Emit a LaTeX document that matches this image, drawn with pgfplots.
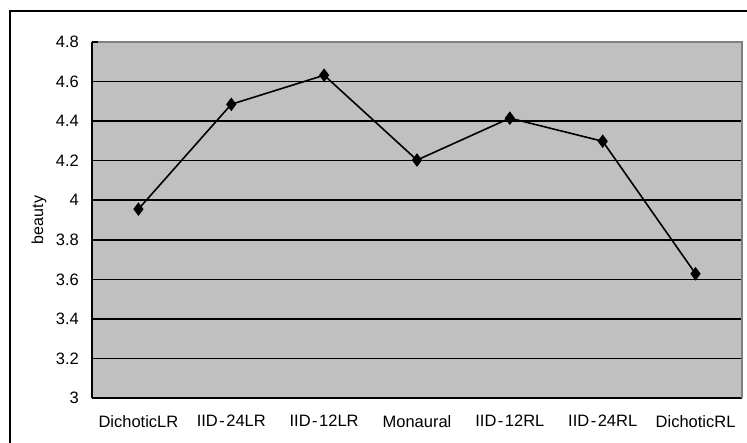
\documentclass[border=0pt]{standalone}
\usepackage{fontspec}
\setmainfont{Liberation Sans}
\usepackage{pgfplots}
\pgfplotsset{compat=1.18}
\definecolor{plotgray}{HTML}{C0C0C0}
\definecolor{bordergray}{HTML}{808080}
\newcommand{\hy}{\kern1.5pt-\kern1.5pt}
\begin{document}
\begin{tikzpicture}[x=1pt,y=1pt]
\useasboundingbox (0,0) rectangle (747,442);
\draw[line width=1.6pt] (10,431) rectangle (780,-30);
\begin{axis}[
  at={(92pt,44pt)}, anchor=south west,
  scale only axis, width=650pt, height=356pt,
  xmin=-0.5, xmax=6.5, ymin=3, ymax=4.8,
  axis background/.style={fill=plotgray},
  axis lines*=left,
  axis line style={black, line width=1.5pt, -},
  /pgf/number format/assume math mode=true,
  ytick={3,3.2,3.4,3.6,3.8,4,4.2,4.4,4.6,4.8},
  yticklabels={3,3.2,3.4,3.6,3.8,4,4.2,4.4,4.6,4.8},
  ymajorgrids,
  grid style={black, line width=1.6pt},
  tick align=inside,
  major tick length=5pt,
  tick style={black, line width=1.2pt},
  xtick={0,1,2,3,4,5,6},
  xticklabels={DichoticLR, IID\hy24LR, IID\hy12LR, Monaural, IID\hy12RL, IID\hy24RL, DichoticRL},
  x tick style={draw=none},
  extra x ticks={-0.5,0.5,1.5,2.5,3.5,4.5,5.5,6.5},
  extra x tick labels={},
  extra x tick style={grid=none, tick style={draw=black, line width=1.2pt}, major tick length=5pt},
  tick label style={font=\fontsize{16.5}{19}\selectfont},
  yticklabel style={anchor=east, inner sep=0pt, xshift=-13pt},
  xticklabel style={anchor=north, inner sep=0pt, yshift=-17pt},
  ylabel={beauty},
  ylabel style={at={(axis description cs:-0.0815,0.5)}, anchor=center, font=\fontsize{16}{19}\selectfont},
  clip=false,
]
\addplot[black, line width=1.6pt, mark=diamond*, mark size=5.5pt, mark options={fill=black, solid}]
  coordinates {(0,3.955) (1,4.485) (2,4.632) (3,4.203) (4,4.415) (5,4.298) (6,3.628)};
\draw[bordergray, line width=1.3pt] (rel axis cs:0.009,1) -- (rel axis cs:1,1) -- (rel axis cs:1,0);
\end{axis}
\end{tikzpicture}
\end{document}
